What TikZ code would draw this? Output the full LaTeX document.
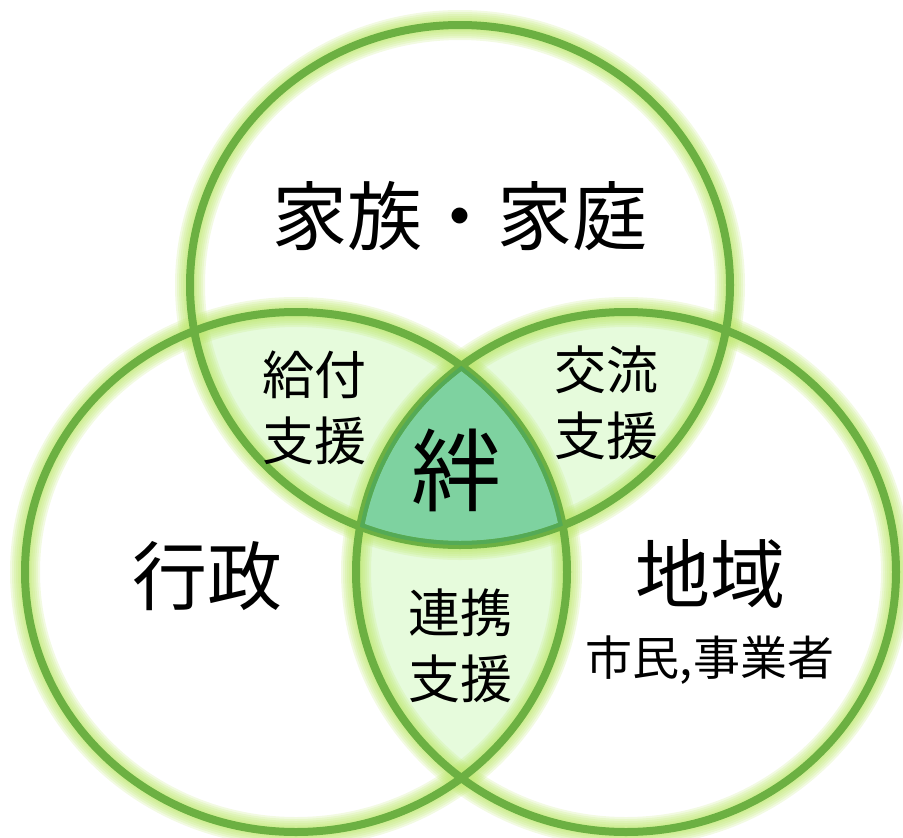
\documentclass[tikz,border=0pt]{standalone}
\usepackage{fontspec}
\setmainfont{Noto Sans CJK JP}
\usetikzlibrary{positioning}

\definecolor{lgreen}{RGB}{108, 176, 66}
\definecolor{lglow}{RGB}{190, 232, 110}
\definecolor{lmint}{RGB}{230, 251, 220}
\definecolor{dmint}{RGB}{126, 210, 160}
\definecolor{dline}{RGB}{84, 170, 86}

\tikzstyle{ring} = [draw=lgreen, line width=8pt]
\tikzstyle{halo} = [draw=lglow, line width=#1, opacity=0.2]
\tikzstyle{bigtext} = [inner sep=0pt, font=\fontsize{75}{75}\selectfont]
\tikzstyle{subtext} = [inner sep=0pt, font=\fontsize{47}{47}\selectfont]
\tikzstyle{pairtext} = [inner sep=0pt, align=center, font=\fontsize{52}{66}\selectfont]
\tikzstyle{kizunatext} = [inner sep=0pt, font=\fontsize{90}{90}\selectfont]

\newcommand{\ringfam}{(460,285) ellipse [x radius=270pt, y radius=260pt]}
\newcommand{\ringgov}{(296,572) ellipse [x radius=271pt, y radius=260pt]}
\newcommand{\ringreg}{(626,572) ellipse [x radius=270pt, y radius=260pt]}

\begin{document}
\begin{tikzpicture}[x=1pt, y=-1pt]

  \useasboundingbox (0,0) rectangle (903,838);

  %%%%%%%%%%%%%%%%%%%%%%%%%%%%%%%%%%%%%%%%%%%%%%%%%%%%%%%%%%%%%%
  %                    OVERLAPS                                %
  %%%%%%%%%%%%%%%%%%%%%%%%%%%%%%%%%%%%%%%%%%%%%%%%%%%%%%%%%%%%%%

  \begin{scope}
    \clip \ringfam;
    \fill[lmint] \ringgov;
    \fill[lmint] \ringreg;
  \end{scope}
  \begin{scope}
    \clip \ringgov;
    \fill[lmint] \ringreg;
  \end{scope}

  %%%%%%%%%%%%%%%%%%%%%%%%%%%%%%%%%%%%%%%%%%%%%%%%%%%%%%%%%%%%%%
  %                    GLOW                                    %
  %%%%%%%%%%%%%%%%%%%%%%%%%%%%%%%%%%%%%%%%%%%%%%%%%%%%%%%%%%%%%%

  \foreach \w in {30pt, 26pt, 22pt, 18pt, 14pt, 11pt} {
    \path[halo=\w] \ringfam;
    \path[halo=\w] \ringgov;
    \path[halo=\w] \ringreg;
  }

  %%%%%%%%%%%%%%%%%%%%%%%%%%%%%%%%%%%%%%%%%%%%%%%%%%%%%%%%%%%%%%
  %                    CENTRE                                  %
  %%%%%%%%%%%%%%%%%%%%%%%%%%%%%%%%%%%%%%%%%%%%%%%%%%%%%%%%%%%%%%

  \begin{scope}
    \clip \ringfam;
    \clip \ringgov;
    \fill[dmint] \ringreg;
  \end{scope}

  \path[ring] \ringfam;
  \path[ring] \ringgov;
  \path[ring] \ringreg;

  \begin{scope}
    \clip \ringfam;
    \clip \ringgov;
    \clip \ringreg;
    \draw[dline, line width=8pt] \ringfam;
    \draw[dline, line width=8pt] \ringgov;
    \draw[dline, line width=8pt] \ringreg;
  \end{scope}

  %%%%%%%%%%%%%%%%%%%%%%%%%%%%%%%%%%%%%%%%%%%%%%%%%%%%%%%%%%%%%%
  %                    LABELS                                  %
  %%%%%%%%%%%%%%%%%%%%%%%%%%%%%%%%%%%%%%%%%%%%%%%%%%%%%%%%%%%%%%

  \node[bigtext] (family) at (460,216) {家族・家庭};
  \node[bigtext] (gov) at (207,576) {行政};
  \node[bigtext] (region) at (710,574) {地域};
  \node[subtext, below = 27pt of region] (citizens) {市民,事業者};

  \node[pairtext] (kyufu) at (314,408) {給付\\支援};
  \node[pairtext] (koryu) at (606,403) {交流\\支援};
  \node[pairtext] (renkei) at (460,646) {連携\\支援};

  \node[kizunatext] (kizuna) at (456,470) {絆};

\end{tikzpicture}
\end{document}
